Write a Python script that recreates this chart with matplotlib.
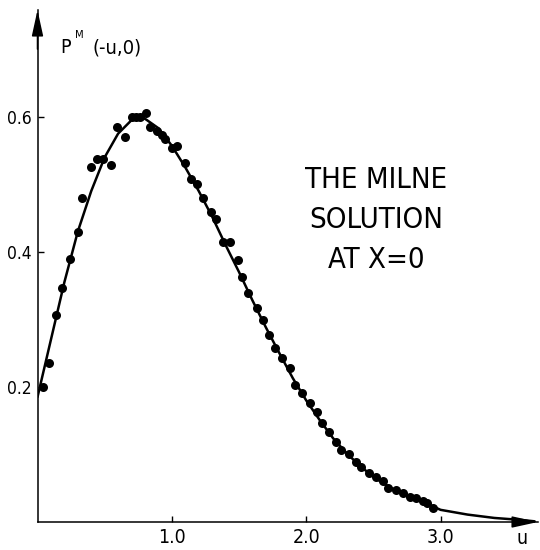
import matplotlib
matplotlib.use("Agg")
import matplotlib.pyplot as plt

plt.rcParams['font.family'] = ['DejaVu Sans']
plt.rcParams['font.stretch'] = 'condensed'

# data points (u, P^M(-u,0))
u_pts = [0.04, 0.085, 0.14, 0.18, 0.24, 0.30, 0.33, 0.40, 0.44, 0.49, 0.55, 0.59, 0.65,
         0.70, 0.73, 0.76, 0.81, 0.84, 0.89, 0.93, 0.95, 1.00, 1.04, 1.10, 1.14, 1.19,
         1.23, 1.29, 1.33, 1.38, 1.43, 1.49, 1.52, 1.57, 1.63, 1.68, 1.72, 1.77, 1.82,
         1.88, 1.92, 1.97, 2.03, 2.08, 2.12, 2.17, 2.22, 2.26, 2.32, 2.37, 2.41, 2.47,
         2.52, 2.57, 2.61, 2.67, 2.72, 2.77, 2.82, 2.87, 2.90, 2.94]
p_pts = [0.20, 0.236, 0.307, 0.347, 0.39, 0.43, 0.48, 0.526, 0.538, 0.538, 0.529, 0.585,
         0.57, 0.60, 0.60, 0.60, 0.606, 0.585, 0.579, 0.573, 0.567, 0.554, 0.556, 0.532,
         0.508, 0.50, 0.48, 0.459, 0.449, 0.415, 0.415, 0.388, 0.363, 0.339, 0.317,
         0.299, 0.277, 0.258, 0.243, 0.228, 0.203, 0.191, 0.176, 0.163, 0.147, 0.133,
         0.119, 0.107, 0.101, 0.089, 0.081, 0.073, 0.067, 0.061, 0.050, 0.047, 0.043,
         0.037, 0.036, 0.031, 0.028, 0.021]

# solid curve
u_curve = [0.0, 0.1, 0.2, 0.3, 0.4, 0.5, 0.6, 0.7, 0.75, 0.8, 0.9, 1.0, 1.1, 1.2, 1.3,
           1.4, 1.5, 1.6, 1.7, 1.8, 1.9, 2.0, 2.1, 2.2, 2.3, 2.4, 2.5, 2.6, 2.7, 2.8,
           2.9, 3.0, 3.2, 3.4, 3.6, 3.7]
p_curve = [0.185, 0.27, 0.355, 0.43, 0.49, 0.54, 0.575, 0.595, 0.598, 0.597, 0.583,
           0.557, 0.525, 0.49, 0.452, 0.41, 0.37, 0.328, 0.288, 0.25, 0.213, 0.18,
           0.151, 0.124, 0.102, 0.083, 0.067, 0.054, 0.043, 0.034, 0.027, 0.018,
           0.011, 0.006, 0.003, 0.001]

x_ticks = [1.0, 2.0, 3.0]
x_ticklabels = ['1.0', '2.0', '3.0']
y_ticks = [0.2, 0.4, 0.6]
y_ticklabels = ['0.2', '0.4', '0.6']

W, H = 540, 550
fig = plt.figure(figsize=(W / 100, H / 100), dpi=100)
x0, y0 = 37.5, 522
ax = fig.add_axes([x0 / W, (H - y0) / H, (538 - x0) / W, (y0 - 10) / H])
ax.set_xlim(0, 3.725)
ax.set_ylim(0, 0.758)

ax.plot(u_curve, p_curve, color='black', lw=1.8, solid_capstyle='round')
ax.plot(u_pts, p_pts, 'o', color='black', ms=6.5, mew=0)

for s in ['top', 'right']:
    ax.spines[s].set_visible(False)
for s in ['left', 'bottom']:
    ax.spines[s].set_linewidth(1.1)

ax.set_xticks(x_ticks)
ax.set_xticklabels(x_ticklabels, fontsize=14)
ax.set_yticks(y_ticks)
ax.set_yticklabels(y_ticklabels, fontsize=12.5)
ax.tick_params(direction='in', length=4, width=1.0, pad=4)
ax.tick_params(axis='y', pad=4)

# arrowheads on axes
ax.annotate('', xy=(0, 0.758), xytext=(0, 0.70), xycoords='data',
            arrowprops=dict(arrowstyle='-|>,head_length=1.6,head_width=0.35',
                            color='black', lw=1.1, shrinkA=0, shrinkB=0),
            annotation_clip=False)
ax.annotate('', xy=(3.725, 0), xytext=(3.55, 0), xycoords='data',
            arrowprops=dict(arrowstyle='-|>,head_length=1.6,head_width=0.35',
                            color='black', lw=1.1, shrinkA=0, shrinkB=0),
            annotation_clip=False)

# axis labels
fig.text(60 / W, 1 - 53 / H, 'P', fontsize=14, ha='left', va='baseline')
fig.text(75 / W, 1 - 38 / H, 'M', fontsize=8, ha='left', va='baseline')
fig.text(92 / W, 1 - 53 / H, '(-u,0)', fontsize=14.5, ha='left', va='baseline')
fig.text(522 / W, 1 - 539 / H, 'u', fontsize=14, ha='center', va='center')

# annotation
ax.text(2.52, 0.447, 'THE MILNE\nSOLUTION\nAT X=0', fontsize=21, ha='center',
        va='center', linespacing=1.55)

fig.savefig('out.png', dpi=100)
